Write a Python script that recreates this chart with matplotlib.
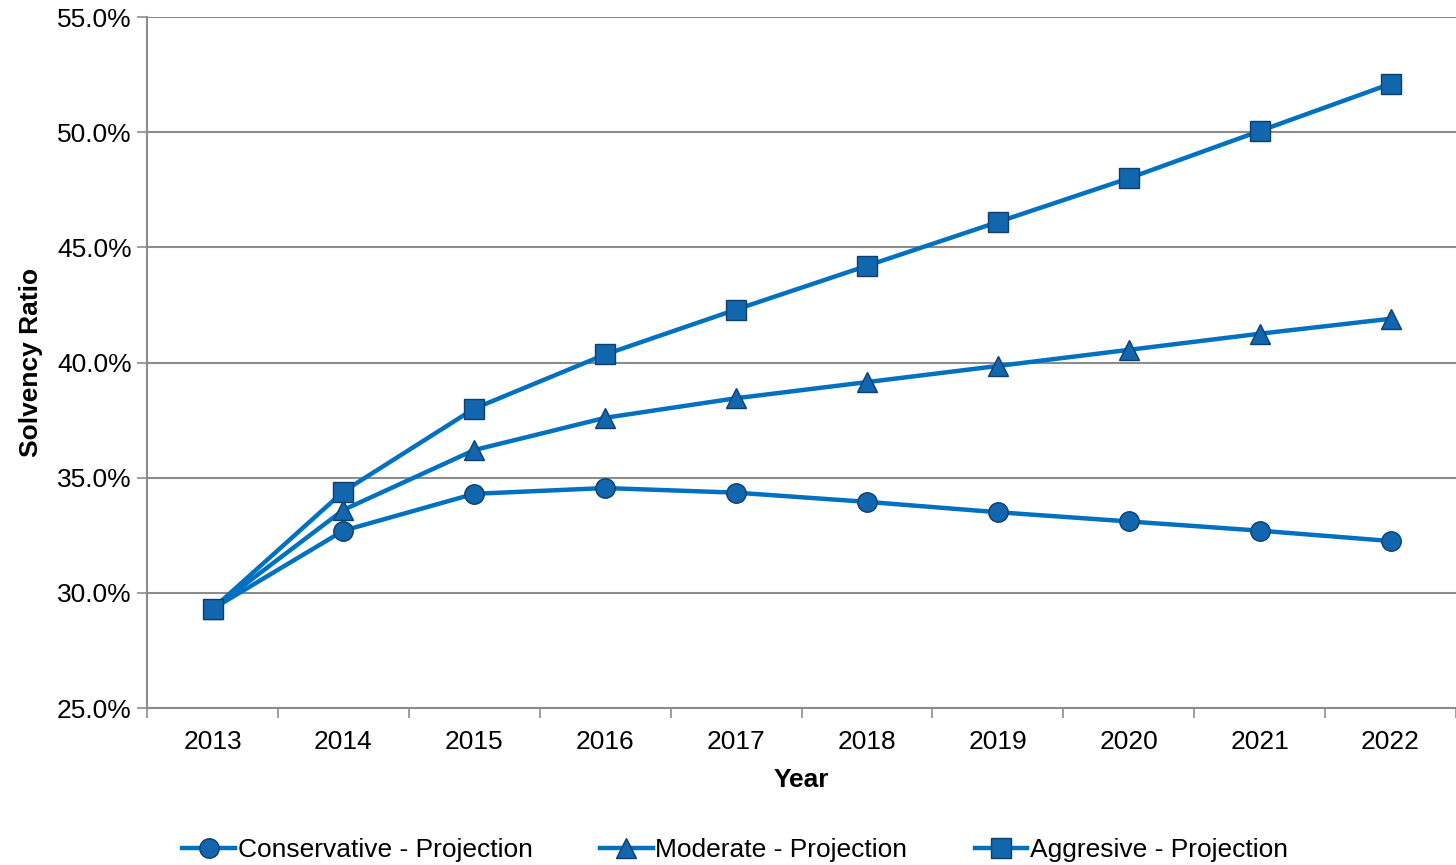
import matplotlib
matplotlib.use("Agg")
import matplotlib.pyplot as plt
from matplotlib.ticker import FuncFormatter

plt.rcParams["font.family"] = ["Liberation Sans", "DejaVu Sans"]

years = ["2013", "2014", "2015", "2016", "2017", "2018", "2019", "2020", "2021", "2022"]
conservative = [29.3, 32.7, 34.3, 34.55, 34.35, 33.95, 33.5, 33.1, 32.7, 32.25]
moderate = [29.3, 33.6, 36.2, 37.6, 38.45, 39.15, 39.85, 40.55, 41.25, 41.9]
aggressive = [29.3, 34.4, 38.0, 40.35, 42.3, 44.2, 46.1, 48.0, 50.05, 52.1]

LINE = "#0070C0"
FACE = "#1266AE"
EDGE = "#0B3F6E"
FS = 19

fig = plt.figure(figsize=(14.56, 8.65), dpi=100)
ax = fig.add_axes([0.101, 0.1815, 0.899, 0.7988])

x = range(len(years))
series = [
    ("Conservative - Projection", conservative, "o", 14),
    ("Moderate - Projection", moderate, "^", 15),
    ("Aggresive - Projection", aggressive, "s", 15),
]
for label, vals, mk, ms in series:
    ax.plot(x, vals, color=LINE, lw=3.2, marker=mk, markersize=ms,
            markerfacecolor=FACE, markeredgecolor=EDGE, markeredgewidth=1.0,
            label=label, zorder=3)

ax.set_xlim(-0.5, len(years) - 0.5)
ax.set_ylim(25, 55)
ax.set_yticks([25, 30, 35, 40, 45, 50, 55])
ax.yaxis.set_major_formatter(FuncFormatter(lambda v, _: f"{v:.1f}%"))
ax.set_xticks(list(x))
ax.set_xticklabels(years)
ax.set_xticks([i - 0.5 for i in range(len(years) + 1)], minor=True)

ax.grid(axis="y", color="#8C8C8C", lw=1.5, zorder=0)
for side in ["top", "right"]:
    ax.spines[side].set_visible(False)
for side in ["left", "bottom"]:
    ax.spines[side].set_color("#8C8C8C")
    ax.spines[side].set_linewidth(1.5)

ax.tick_params(axis="x", which="major", length=0, labelsize=FS, pad=16)
ax.tick_params(axis="x", which="minor", length=7, width=1.2, color="#8C8C8C")
ax.tick_params(axis="y", length=7, width=1.2, color="#8C8C8C", labelsize=FS, pad=4)

ax.set_xlabel("Year", fontsize=FS, fontweight="bold", labelpad=10)
ax.set_ylabel("Solvency Ratio", fontsize=FS, fontweight="bold", labelpad=10)

fig.legend(loc="lower center", bbox_to_anchor=(0.505, -0.024), ncol=3, frameon=False,
           fontsize=FS, handlelength=2.0, columnspacing=2.55, handletextpad=0.1)

fig.savefig("out.png", dpi=100)
